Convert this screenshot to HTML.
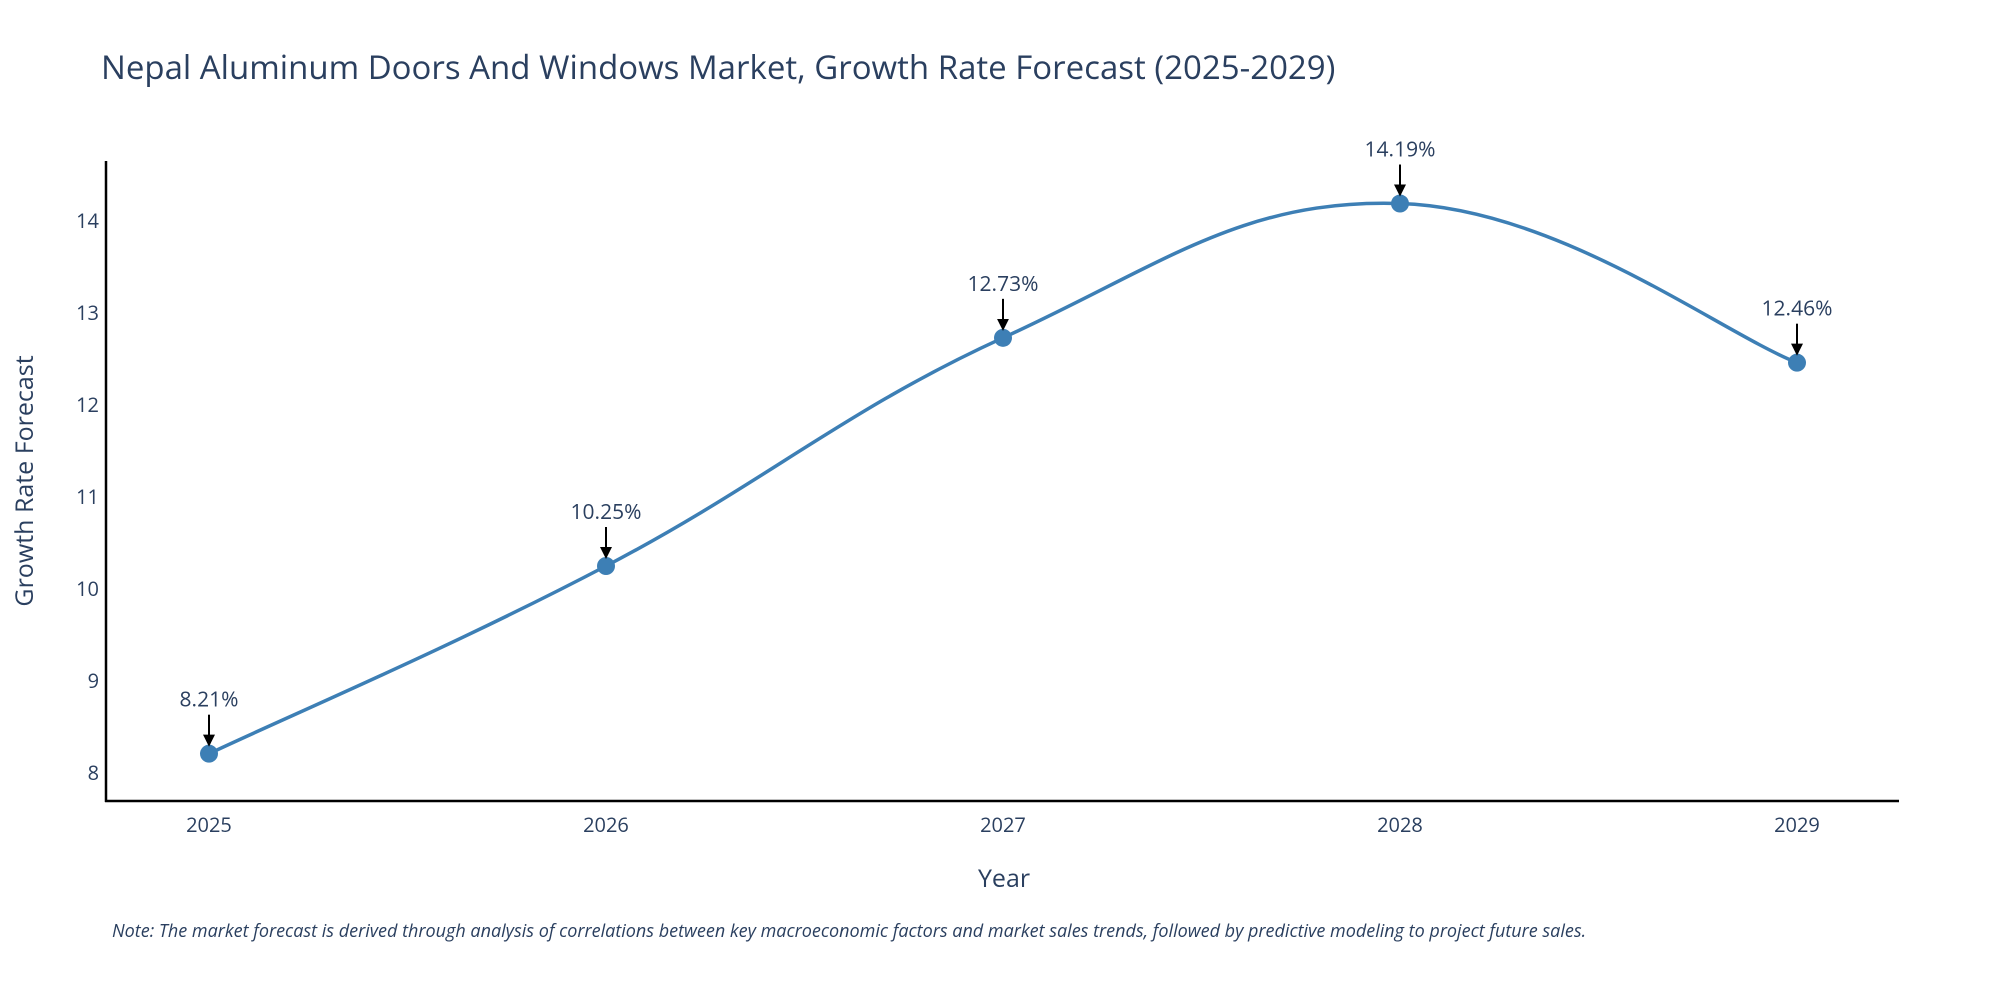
<!DOCTYPE html>
<html><head><meta charset="utf-8"><style>
body{margin:0;background:#fff;font-family:"Liberation Sans",sans-serif}
svg text{font-family:"Open Sans","Liberation Sans",sans-serif}
</style></head><body>
<svg id="chart" width="2000" height="1000" xmlns="http://www.w3.org/2000/svg">
<defs><marker id="ah" markerWidth="6" markerHeight="6" refX="5" refY="3" orient="auto" markerUnits="strokeWidth"><path d="M0,0 L6,3 L0,6 z" fill="#000"/></marker></defs>
<text x="101" y="79" font-size="33" fill="#2a3f5f">Nepal Aluminum Doors And Windows Market, Growth Rate Forecast (2025-2029)</text>
<g id="yticks"></g><g id="xticks"></g>
<line x1="106" y1="161" x2="106" y2="802" stroke="#000" stroke-width="2.5"/>
<line x1="105" y1="801" x2="1899" y2="801" stroke="#000" stroke-width="2.5"/>
<text x="0" y="0" transform="translate(33,481) rotate(-90)" text-anchor="middle" font-size="25" fill="#2a3f5f">Growth Rate Forecast</text>
<text x="1004" y="887" text-anchor="middle" font-size="25" fill="#2a3f5f">Year</text>
<path id="line" fill="none" stroke="#3d7fb5" stroke-width="3.5"/>
<g id="pts"></g>
<text x="112" y="937" font-size="18" font-style="italic" fill="#2a3f5f">Note: The market forecast is derived through analysis of correlations between key macroeconomic factors and market sales trends, followed by predictive modeling to project future sales.</text>
</svg>
<script>
const years=[2025,2026,2027,2028,2029];
const values=[8.21,10.25,12.73,14.19,12.46];
const labels=["8.21%","10.25%","12.73%","14.19%","12.46%"];
const yTicks=[8,9,10,11,12,13,14];
const NS="http://www.w3.org/2000/svg";
const xs=y=>209+(y-2025)*397;
const ys=v=>773-(v-8)*92;
function mk(t,a,p){const e=document.createElementNS(NS,t);for(const k in a)e.setAttribute(k,a[k]);p.appendChild(e);return e;}
const yt=document.getElementById('yticks');
yTicks.forEach(v=>{const t=mk('text',{x:99,y:ys(v)+7,'text-anchor':'end','font-size':20,fill:'#2a3f5f'},yt);t.textContent=v;

});
const xt=document.getElementById('xticks');
years.forEach(y=>{const t=mk('text',{x:xs(y),y:832,'text-anchor':'middle','font-size':20,fill:'#2a3f5f'},xt);t.textContent=y;

});
const P=years.map((y,i)=>[xs(y),ys(values[i])]);
let d=`M${P[0][0]},${P[0][1]}`;const s=0.2;
for(let i=0;i<P.length-1;i++){const p0=P[i-1]||P[i],p1=P[i],p2=P[i+1],p3=P[i+2]||P[i+1];
d+=` C${p1[0]+(p2[0]-p0[0])*s},${p1[1]+(p2[1]-p0[1])*s} ${p2[0]-(p3[0]-p1[0])*s},${p2[1]-(p3[1]-p1[1])*s} ${p2[0]},${p2[1]}`;}
document.getElementById('line').setAttribute('d',d);
const g=document.getElementById('pts');
P.forEach((p,i)=>{const c=mk('circle',{cx:p[0],cy:p[1],r:9,fill:'#3d7fb5'},g);


const a=mk('line',{x1:p[0],y1:p[1]-39,x2:p[0],y2:p[1]-9,stroke:'#000','stroke-width':2,'marker-end':'url(#ah)'},g);


const t=mk('text',{x:p[0],y:p[1]-47,'text-anchor':'middle','font-size':21,fill:'#2a3f5f'},g);t.textContent=labels[i];

});
</script>
</body></html>
